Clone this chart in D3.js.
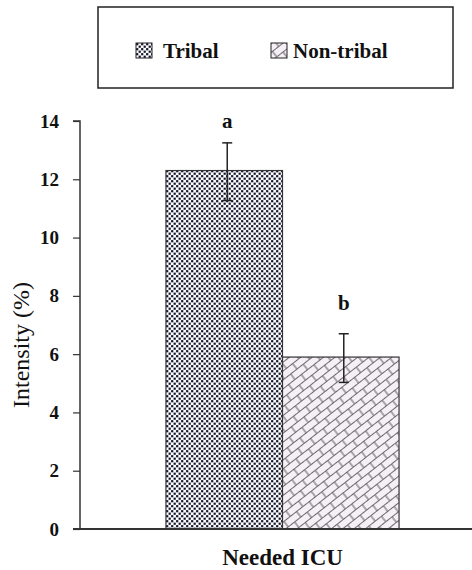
<!DOCTYPE html>
<html>
<head>
<meta charset="utf-8">
<script src="https://cdn.jsdelivr.net/npm/d3@7"></script>
<style>
  body { margin: 0; background: #fff; }
</style>
</head>
<body>
<div id="chart"></div>
<script>
var W = 472, H = 570;
var margin = {top: 121, right: 0, bottom: 41, left: 80};
var serif = "Liberation Serif, DejaVu Serif, serif";

// data
var categories = ["Needed ICU"];
var groups = ["Tribal", "Non-tribal"];
var means = [12.3, 5.9];
var errLow = [11.27, 5.03];
var errHigh = [13.25, 6.7];
var letters = ["a", "b"];
var letterAt = [13.77, 7.5];
var yTicks = [0, 2, 4, 6, 8, 10, 12, 14];

var svg = d3.select("#chart")
            .append("svg")
            .attr("width", W)
            .attr("height", H)
            .attr("font-family", serif);

var defs = svg.append("defs");

// dotted pattern for tribal
var dots = defs.append("pattern")
    .attr("id", "dots")
    .attr("patternUnits", "userSpaceOnUse")
    .attr("width", 5)
    .attr("height", 5);
dots.append("rect").attr("width", 5).attr("height", 5).attr("fill", "#fff");
dots.append("rect").attr("x", 0.1).attr("y", 0.1).attr("width", 2.2).attr("height", 2.2).attr("fill", "#10102a");
dots.append("rect").attr("x", 2.6).attr("y", 2.6).attr("width", 2.2).attr("height", 2.2).attr("fill", "#10102a");

// brick pattern for non-tribal
var brick = defs.append("pattern")
    .attr("id", "brick")
    .attr("patternUnits", "userSpaceOnUse")
    .attr("width", 16)
    .attr("height", 14)
    .attr("patternTransform", "rotate(-38)");
brick.append("rect").attr("width", 16).attr("height", 14).attr("fill", "#f6eff6");
brick.append("path")
     .attr("d", "M0,0.5H16M0,7.5H16M4,0.5V7.5M12,7.5V14.5")
     .attr("stroke", "#6a6a6a")
     .attr("stroke-width", 1.1)
     .attr("fill", "none");

var fills = ["url(#dots)", "url(#brick)"];

var yScale = d3.scaleLinear()
               .domain([0, 14])
               .range([H - margin.bottom, margin.top]);

var xScale = d3.scaleBand()
               .domain(categories)
               .range([93, W])
               .paddingInner(0)
               .paddingOuter(0.313);

var xSub = d3.scaleBand()
             .domain(groups)
             .range([0, xScale.bandwidth()]);

// bars
var g = svg.append("g")
           .attr("transform", "translate(" + xScale(categories[0]) + ",0)");

g.selectAll("rect.bar")
 .data(groups)
 .enter()
 .append("rect")
 .attr("class", "bar")
 .attr("x", d => xSub(d))
 .attr("y", (d, i) => yScale(means[i]))
 .attr("width", xSub.bandwidth())
 .attr("height", (d, i) => yScale(0) - yScale(means[i]))
 .attr("fill", (d, i) => fills[i])
 .attr("stroke", "#333")
 .attr("stroke-width", 1.2);

var cx = d => xSub(d) + xSub.bandwidth() / 2 + 3;

// error bars
g.selectAll("line.err")
 .data(groups)
 .enter()
 .append("line")
 .attr("x1", cx)
 .attr("x2", cx)
 .attr("y1", (d, i) => yScale(errLow[i]))
 .attr("y2", (d, i) => yScale(errHigh[i]))
 .attr("stroke", "#222")
 .attr("stroke-width", 1.5);

g.selectAll("line.cap")
 .data(groups)
 .enter()
 .append("line")
 .attr("x1", d => cx(d) - 5)
 .attr("x2", d => cx(d) + 5)
 .attr("y1", (d, i) => yScale(errHigh[i]))
 .attr("y2", (d, i) => yScale(errHigh[i]))
 .attr("stroke", "#222")
 .attr("stroke-width", 1.5);

g.selectAll("line.capLow")
 .data(groups)
 .enter()
 .append("line")
 .attr("x1", d => cx(d) - 5)
 .attr("x2", d => cx(d) + 5)
 .attr("y1", (d, i) => yScale(errLow[i]))
 .attr("y2", (d, i) => yScale(errLow[i]))
 .attr("stroke", "#222")
 .attr("stroke-width", 1.5);

// significance letters
g.selectAll("text.letter")
 .data(groups)
 .enter()
 .append("text")
 .attr("x", cx)
 .attr("y", (d, i) => yScale(letterAt[i]))
 .attr("text-anchor", "middle")
 .attr("font-family", serif)
 .attr("font-size", 21)
 .attr("font-weight", "bold")
 .attr("fill", "#111")
 .text((d, i) => letters[i]);

// y axis
var yAxis = d3.axisLeft(yScale)
              .tickValues(yTicks)
              .tickSize(7)
              .tickPadding(14)
              .tickFormat(d3.format("d"));

var yg = svg.append("g")
   .attr("transform", "translate(" + margin.left + ",0)")
   .call(yAxis)
   .attr("font-family", serif)
   .attr("font-size", 19);
yg.select(".domain").attr("stroke", "#333").attr("stroke-width", 1.5)
  .attr("d", "M-7," + yScale(14) + "H0V" + yScale(0));
yg.selectAll(".tick line").attr("stroke", "#333").attr("stroke-width", 1.2);
yg.selectAll(".tick text")
  .attr("font-weight", "bold")
  .attr("fill", "#111");

// x axis
var xAxis = d3.axisBottom(xScale).tickSize(0).tickFormat("");
var xg = svg.append("g")
   .attr("transform", "translate(0," + yScale(0) + ")")
   .call(xAxis);
xg.select(".domain").attr("stroke", "#333").attr("stroke-width", 1.8)
  .attr("d", "M" + (margin.left - 7) + ",0H" + W);

// x label
svg.append("text")
   .attr("x", xScale(categories[0]) + xScale.bandwidth() / 2)
   .attr("y", H - 5)
   .attr("text-anchor", "middle")
   .attr("font-family", serif)
   .attr("font-size", 23)
   .attr("font-weight", "bold")
   .attr("fill", "#111")
   .text(categories[0]);

// y label
svg.append("text")
   .attr("transform", "rotate(-90)")
   .attr("x", -345)
   .attr("y", 29)
   .attr("text-anchor", "middle")
   .attr("font-family", serif)
   .attr("font-size", 24)
   .attr("fill", "#111")
   .text("Intensity (%)");

// legend
var legend = svg.append("g");
legend.append("rect")
      .attr("x", 98).attr("y", 7)
      .attr("width", 355).attr("height", 81)
      .attr("fill", "#fff")
      .attr("stroke", "#222")
      .attr("stroke-width", 1.5);

var legX = [136, 271];
var item = legend.selectAll("g.item")
      .data(groups)
      .enter()
      .append("g")
      .attr("transform", (d, i) => "translate(" + legX[i] + ",43)");
item.append("rect")
    .attr("width", 16).attr("height", 15)
    .attr("fill", (d, i) => fills[i])
    .attr("stroke", "#222")
    .attr("stroke-width", 1);
item.append("text")
    .attr("x", (d, i) => i === 0 ? 27 : 22)
    .attr("y", 15)
    .attr("font-family", serif)
    .attr("font-size", 21)
    .attr("font-weight", "bold")
    .attr("fill", "#111")
    .text(d => d);
</script>
</body>
</html>
